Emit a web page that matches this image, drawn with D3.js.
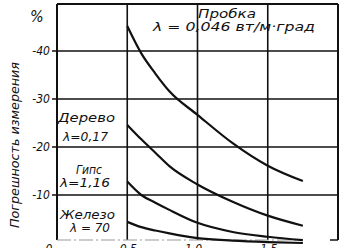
<!DOCTYPE html>
<html><head><meta charset="utf-8">
<script src="https://cdn.jsdelivr.net/npm/d3@7"></script>
<style>
html,body{margin:0;padding:0;background:#fff;}
svg{display:block;}
text{font-family:"Liberation Sans Narrow","DejaVu Sans Condensed","Liberation Sans",sans-serif;font-style:italic;fill:#111;}
</style></head>
<body>
<script>
// ---- data ----
const xPoints = [1.0, 1.2, 1.4, 1.6, 2.0, 2.5, 3.0, 3.5];
const corkValues   = [45.2, 39.5, 35.3, 31.6, 26.7, 20.8, 16.1, 12.9]; // Пробка
const woodValues   = [24.6, 21.6, 18.8, 16.0, 12.2, 8.6, 5.7, 3.6];    // Дерево
const gypsumValues = [12.8, 10.0, 8.4, 6.9, 4.2, 2.3, 1.3, 0.6];       // Гипс
const ironValues   = [4.4, 3.3, 2.6, 2.0, 1.0, 0.5, 0.2, 0.0];         // Железо
const yTicks = [40, 30, 20, 10];
const yTickLabels = ["-40", "-30", "-20", "-10"];
const xTicks = [0, 1, 2, 3];
const xTickLabels = ["0", "0,5", "1,0", "1,5"];
const xGrid = [1, 2, 3];
const yTitle = "Погрешность измерения";

const W = 346, H = 248;
const svg = d3.select("body").append("svg").attr("width", W).attr("height", H);

const x = d3.scaleLinear().domain([0, 4]).range([57, 338]);
const y = d3.scaleLinear().domain([0, 50]).range([243, 3]);
const frameTop = 4, frameBottom = 240;

// grid lines
svg.selectAll(".hg").data(yTicks).enter().append("line")
  .attr("x1", 52).attr("x2", x(4)).attr("y1", d => y(d)).attr("y2", d => y(d))
  .attr("stroke", "#111").attr("stroke-width", 1.6);
svg.selectAll(".vg").data(xGrid).enter().append("line")
  .attr("x1", d => x(d)).attr("x2", d => x(d)).attr("y1", frameTop).attr("y2", frameBottom)
  .attr("stroke", "#111").attr("stroke-width", 1.6);

// frame
svg.append("line").attr("x1", x(0)).attr("x2", x(4)).attr("y1", frameTop).attr("y2", frameTop)
  .attr("stroke", "#111").attr("stroke-width", 2);
svg.append("line").attr("x1", x(0)).attr("x2", x(0)).attr("y1", frameTop).attr("y2", frameBottom)
  .attr("stroke", "#111").attr("stroke-width", 2);
svg.append("line").attr("x1", x(4)).attr("x2", x(4)).attr("y1", frameTop).attr("y2", frameBottom)
  .attr("stroke", "#111").attr("stroke-width", 2);
svg.append("line").attr("x1", x(4) - 8).attr("x2", x(4)).attr("y1", frameBottom).attr("y2", frameBottom)
  .attr("stroke", "#111").attr("stroke-width", 1.5);
svg.append("line").attr("x1", x(0)).attr("x2", x(3.5)).attr("y1", frameBottom).attr("y2", frameBottom)
  .attr("stroke", "#999").attr("stroke-width", 1.2).attr("stroke-dasharray", "14 3 2 3");

// y tick labels
svg.selectAll(".yl").data(yTicks).enter().append("text")
  .attr("x", 50).attr("y", d => y(d) + 4).attr("text-anchor", "end")
  .attr("font-size", 12).text((d, i) => yTickLabels[i]);

// x tick labels (clipped at the bottom edge, as in the reference)
svg.selectAll(".xl").data(xTicks).enter().append("text")
  .attr("x", d => x(d) + (d === 0 ? -8 : (d === 2 ? -4 : 1)))
  .attr("y", 253).attr("text-anchor", "middle")
  .attr("font-size", 12).text((d, i) => xTickLabels[i]);

// % sign
svg.append("text").attr("x", 30).attr("y", 22).attr("font-size", 16).attr("font-style", "normal").text("%");

// y title
svg.append("text").attr("transform", "translate(19,145) rotate(-90)")
  .attr("text-anchor", "middle").attr("font-size", 13)
  .attr("textLength", 166).attr("lengthAdjust", "spacingAndGlyphs").text(yTitle);

// curves
const line = d3.line().x((d, i) => x(xPoints[i])).y(d => y(d)).curve(d3.curveMonotoneX);
[corkValues, woodValues, gypsumValues, ironValues].forEach(vals => {
  svg.append("path").attr("d", line(vals)).attr("fill", "none")
    .attr("stroke", "#111").attr("stroke-width", 2.2);
});

// annotations
function label(tx, ty, str, size, len) {
  const t = svg.append("text").attr("x", tx).attr("y", ty).attr("font-size", size).text(str);
  if (len) t.attr("textLength", len).attr("lengthAdjust", "spacingAndGlyphs");
  return t;
}
label(198, 18, "Пробка", 12, 58);
label(153, 31, "λ = 0,046 вт/м·град", 12, 162);
label(58, 122, "Дерево", 12, 57);
label(63, 141, "λ=0,17", 12, 45);
label(76, 174, "Гипс", 12, 26);
label(60, 187, "λ=1,16", 12, 50);
label(60, 219, "Железо", 12, 55);
label(70, 232, "λ = 70", 12, 40);
</script>
</body></html>
